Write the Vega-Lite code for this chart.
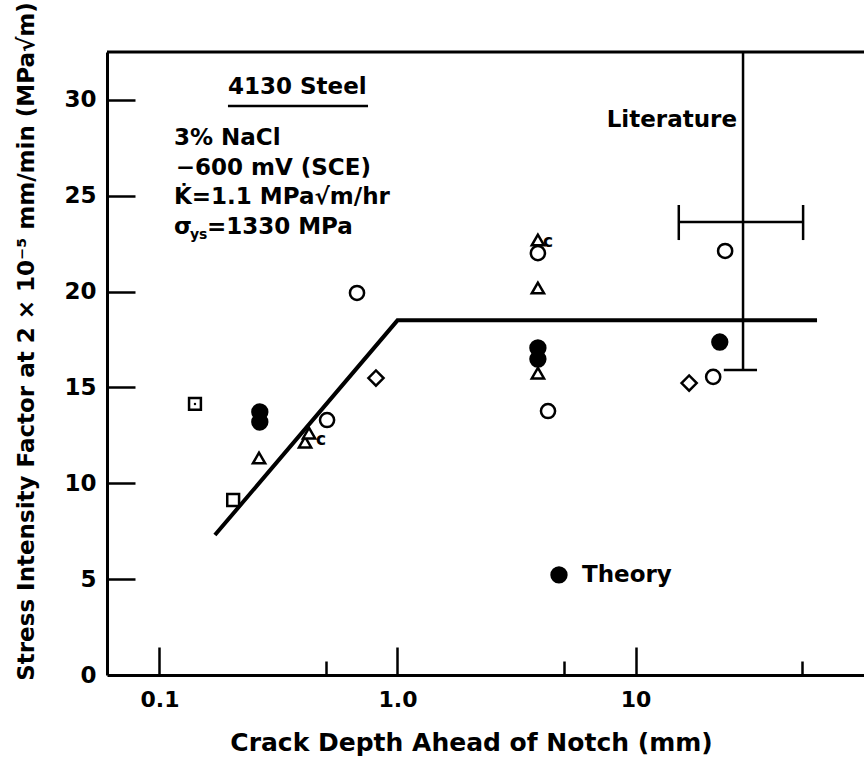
{
  "$schema": "https://vega.github.io/schema/vega-lite/v6.json",
  "width": 757,
  "height": 623,
  "autosize": {"type": "none"},
  "padding": {"left": 107, "top": 52, "right": 0, "bottom": 94},
  "background": "white",
  "config": {"view": {"stroke": null}, "font": "DejaVu Sans"},
  "resolve": {"axis": {"y": "independent"}},
  "datasets": {
    "points": [
      {"x": 0.141, "y": 14.14, "kind": "dotted square"},
      {"x": 0.204, "y": 9.13, "kind": "square"},
      {"x": 0.264, "y": 13.72, "kind": "filled circle"},
      {"x": 0.264, "y": 13.2, "kind": "filled circle"},
      {"x": 0.262, "y": 11.32, "kind": "triangle"},
      {"x": 0.409, "y": 12.15, "kind": "triangle"},
      {"x": 0.425, "y": 12.62, "kind": "triangle"},
      {"x": 0.506, "y": 13.3, "kind": "open circle"},
      {"x": 0.676, "y": 19.93, "kind": "open circle"},
      {"x": 0.812, "y": 15.49, "kind": "diamond"},
      {"x": 3.89, "y": 22.69, "kind": "triangle"},
      {"x": 3.89, "y": 22.01, "kind": "open circle"},
      {"x": 3.89, "y": 20.19, "kind": "triangle"},
      {"x": 3.89, "y": 17.06, "kind": "filled circle"},
      {"x": 3.89, "y": 16.48, "kind": "filled circle"},
      {"x": 3.89, "y": 15.75, "kind": "triangle"},
      {"x": 4.29, "y": 13.77, "kind": "open circle"},
      {"x": 16.8, "y": 15.23, "kind": "diamond"},
      {"x": 21.2, "y": 15.55, "kind": "open circle"},
      {"x": 22.6, "y": 17.37, "kind": "filled circle"},
      {"x": 23.8, "y": 22.12, "kind": "open circle"},
      {"x": 4.77, "y": 5.22, "kind": "filled circle"}
    ],
    "theory": [
      {"x": 0.171, "y": 7.3},
      {"x": 1.0, "y": 18.5},
      {"x": 57.9, "y": 18.5}
    ],
    "segments": [
      {"x": 28.3, "x2": 28.3, "y": 15.91, "y2": 32.5},
      {"x": 23.5, "x2": 32.4, "y": 15.91, "y2": 15.91},
      {"x": 15.2, "x2": 50.6, "y": 23.63, "y2": 23.63},
      {"x": 15.2, "x2": 15.2, "y": 22.69, "y2": 24.52},
      {"x": 50.6, "x2": 50.6, "y": 22.69, "y2": 24.52},
      {"x": 0.194, "x2": 0.752, "y": 29.68, "y2": 29.68}
    ],
    "frame": [
      {"x": 0.0602, "x2": 91.2, "y": 32.5}
    ],
    "notes": [
      {"x": 0.194, "y": 30.67, "text": "4130 Steel"},
      {"x": 0.1151, "y": 28.01, "text": "3% NaCl"},
      {"x": 0.117, "y": 26.45, "text": "−600 mV (SCE)"},
      {"x": 0.1151, "y": 24.93, "text": "K̇=1.1 MPa√m/hr"},
      {"x": 0.1151, "y": 23.37, "text": "σ"},
      {"x": 0.1583, "y": 23.37, "text": "=1330 MPa"},
      {"x": 5.96, "y": 5.22, "text": "Theory"}
    ],
    "subs": [
      {"x": 0.1343, "y": 22.95, "text": "ys"}
    ],
    "cmarks": [
      {"x": 4.29, "y": 22.6, "text": "c"},
      {"x": 0.477, "y": 12.25, "text": "c"}
    ],
    "rightnotes": [
      {"x": 26.7, "y": 28.95, "text": "Literature"}
    ]
  },
  "layer": [
    {
      "data": {"name": "theory"},
      "mark": {"type": "line", "color": "black", "strokeWidth": 4, "clip": true},
      "encoding": {
        "x": {
          "field": "x", "type": "quantitative",
          "scale": {"type": "log", "domain": [0.0602, 91.2], "nice": false},
          "axis": {
            "values": [0.1, 0.5, 1, 5, 10, 50],
            "labelExpr": "datum.value == 0.1 ? '0.1' : datum.value == 1 ? '1.0' : datum.value == 10 ? '10' : ''",
            "tickSize": {"condition": {"test": "datum.value == 0.1 || datum.value == 1 || datum.value == 10", "value": -28}, "value": -14},
            "tickWidth": 2.5,
            "tickColor": "black",
            "domainColor": "black",
            "domainWidth": 3,
            "grid": false,
            "labelFont": "DejaVu Sans",
            "labelFontWeight": "bold",
            "labelFontSize": 22,
            "labelColor": "black",
            "labelPadding": 42,
            "labelFlush": false,
            "labelOverlap": false,
            "title": "Crack Depth Ahead of Notch (mm)",
            "titleFont": "DejaVu Sans",
            "titleFontWeight": "bold",
            "titleFontSize": 25,
            "titleColor": "black",
            "titleX": 364,
            "titleY": 75,
            "titleBaseline": "alphabetic",
            "titleAlign": "center"
          }
        },
        "y": {
          "field": "y", "type": "quantitative",
          "scale": {"domain": [0, 32.5], "nice": false, "zero": false},
          "axis": {
            "orient": "left",
            "values": [0, 5, 10, 15, 20, 25, 30],
            "ticks": false,
            "domainColor": "black",
            "domainWidth": 3,
            "grid": false,
            "labelFont": "DejaVu Sans",
            "labelFontWeight": "bold",
            "labelFontSize": 23,
            "labelColor": "black",
            "labelPadding": 11,
            "labelFlush": false,
            "labelOverlap": false,
            "title": "Stress Intensity Factor at 2 × 10⁻⁵ mm/min (MPa√m)",
            "titleFont": "DejaVu Sans",
            "titleFontWeight": "bold",
            "titleFontSize": 23,
            "titleColor": "black",
            "titleAngle": -90,
            "titleX": -74,
            "titleY": 289,
            "titleBaseline": "alphabetic",
            "titleAlign": "center"
          }
        }
      }
    },
    {
      "data": {"name": "frame"},
      "mark": {"type": "rule", "color": "black", "strokeWidth": 3},
      "encoding": {
        "x": {"field": "x", "type": "quantitative"},
        "x2": {"field": "x2"},
        "y": {
          "field": "y", "type": "quantitative",
          "axis": {
            "orient": "right",
            "offset": -757,
            "values": [5, 10, 15, 20, 25, 30],
            "domain": false,
            "labels": false,
            "grid": false,
            "ticks": true,
            "tickSize": 28,
            "tickWidth": 2.5,
            "tickColor": "black",
            "title": null
          }
        }
      }
    },
    {
      "data": {"name": "segments"},
      "mark": {"type": "rule", "color": "black", "strokeWidth": 2.5, "clip": true},
      "encoding": {
        "x": {"field": "x", "type": "quantitative"},
        "x2": {"field": "x2"},
        "y": {"field": "y", "type": "quantitative", "axis": null},
        "y2": {"field": "y2"}
      }
    },
    {
      "data": {"name": "points"},
      "mark": {"type": "point", "stroke": "black", "strokeWidth": 2.5, "opacity": 1},
      "encoding": {
        "x": {"field": "x", "type": "quantitative"},
        "y": {"field": "y", "type": "quantitative", "axis": null},
        "shape": {
          "field": "kind", "type": "nominal", "legend": null,
          "scale": {"domain": ["open circle", "filled circle", "triangle", "square", "dotted square", "diamond"], "range": ["circle", "circle", "triangle-up", "square", "square", "diamond"]}
        },
        "fill": {
          "field": "kind", "type": "nominal", "legend": null,
          "scale": {"domain": ["open circle", "filled circle", "triangle", "square", "dotted square", "diamond"], "range": ["white", "black", "white", "white", "white", "white"]}
        },
        "size": {
          "field": "kind", "type": "nominal", "legend": null,
          "scale": {"type": "ordinal", "domain": ["open circle", "filled circle", "triangle", "square", "dotted square", "diamond"], "range": [200, 220, 150, 140, 140, 230]}
        }
      }
    },
    {
      "data": {"name": "points"},
      "transform": [{"filter": "datum.kind == 'dotted square'"}],
      "mark": {"type": "point", "shape": "circle", "filled": true, "color": "black", "size": 6, "opacity": 1},
      "encoding": {
        "x": {"field": "x", "type": "quantitative"},
        "y": {"field": "y", "type": "quantitative", "axis": null}
      }
    },
    {
      "data": {"name": "notes"},
      "mark": {"type": "text", "align": "left", "baseline": "middle", "font": "DejaVu Sans", "fontWeight": "bold", "fontSize": 23, "color": "black"},
      "encoding": {
        "x": {"field": "x", "type": "quantitative"},
        "y": {"field": "y", "type": "quantitative", "axis": null},
        "text": {"field": "text"}
      }
    },
    {
      "data": {"name": "subs"},
      "mark": {"type": "text", "align": "left", "baseline": "middle", "font": "DejaVu Sans", "fontWeight": "bold", "fontSize": 14, "color": "black"},
      "encoding": {
        "x": {"field": "x", "type": "quantitative"},
        "y": {"field": "y", "type": "quantitative", "axis": null},
        "text": {"field": "text"}
      }
    },
    {
      "data": {"name": "cmarks"},
      "mark": {"type": "text", "align": "center", "baseline": "middle", "font": "DejaVu Sans", "fontWeight": "bold", "fontSize": 17, "color": "black"},
      "encoding": {
        "x": {"field": "x", "type": "quantitative"},
        "y": {"field": "y", "type": "quantitative", "axis": null},
        "text": {"field": "text"}
      }
    },
    {
      "data": {"name": "rightnotes"},
      "mark": {"type": "text", "align": "right", "baseline": "middle", "font": "DejaVu Sans", "fontWeight": "bold", "fontSize": 23, "color": "black"},
      "encoding": {
        "x": {"field": "x", "type": "quantitative"},
        "y": {"field": "y", "type": "quantitative", "axis": null},
        "text": {"field": "text"}
      }
    }
  ]
}
